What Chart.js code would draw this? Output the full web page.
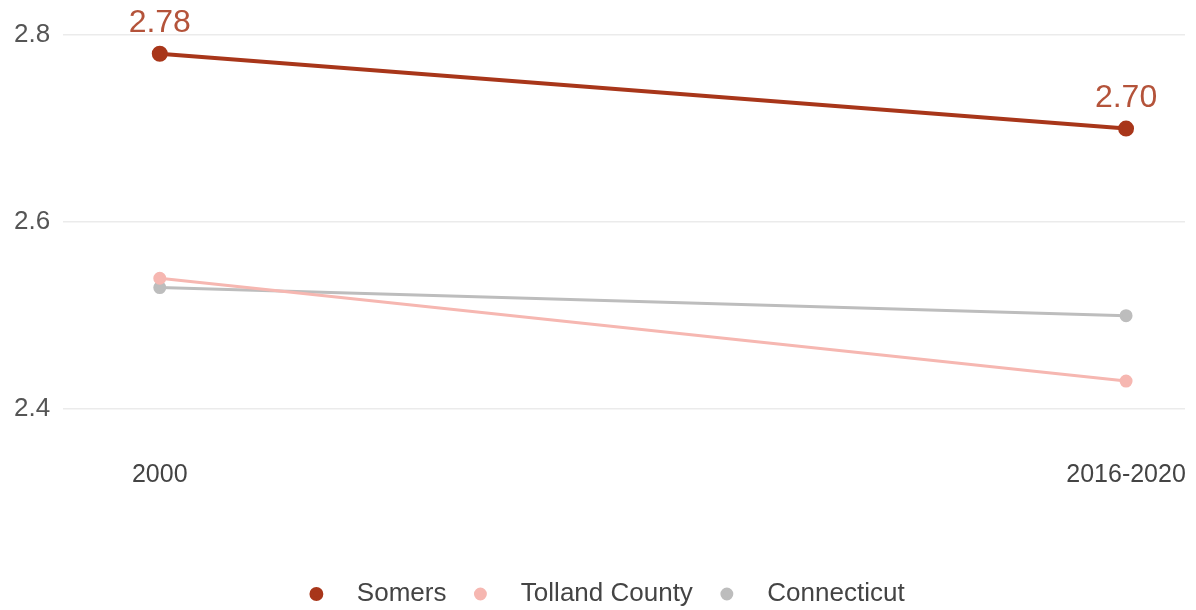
<!DOCTYPE html>
<html>
<head>
<meta charset="utf-8">
<script src="https://cdn.jsdelivr.net/npm/chart.js@4"></script>
<style>
  html, body { margin: 0; padding: 0; background: #fff; }
  #wrap { width: 1196px; height: 610px; }
</style>
</head>
<body>
<div id="wrap"><canvas id="linechart" width="1196" height="610"></canvas></div>
<script>
// data
const periods = ['2000', '2016-2020'];
const somers = [2.78, 2.70];
const tolland = [2.54, 2.43];
const connecticut = [2.53, 2.50];
const yTicks = [2.4, 2.6, 2.8];

const font = '"Liberation Sans", Arial, sans-serif';

function toPoints(values) {
  return values.map((v, i) => ({ x: i, y: v }));
}

// value labels above the Somers points, plus a few position tweaks
const valueLabels = {
  id: 'valueLabels',
  beforeInit(chart) {
    // pull the legend a bit lower and to the right
    const legend = chart.legend;
    const fit = legend.fit;
    legend.fit = function () {
      fit.call(this);
      this.height -= 5;
    };
    const draw = legend.draw;
    legend.draw = function (area) {
      this.ctx.save();
      this.ctx.translate(11, 2);
      draw.call(this, area);
      this.ctx.restore();
    };
  },
  afterLayout(chart) {
    // x tick labels sit further below the panel than tick padding allows
    const xs = chart.scales.x;
    if (xs && !xs._shifted) {
      const drawLabels = xs.drawLabels;
      xs.drawLabels = function (area) {
        this.ctx.save();
        this.ctx.translate(0, 20);
        drawLabels.call(this, area);
        this.ctx.restore();
      };
      xs._shifted = true;
    }
  },
  afterDatasetsDraw(chart) {
    const ctx = chart.ctx;
    const meta = chart.getDatasetMeta(0);
    ctx.save();
    ctx.font = '32px ' + font;
    ctx.fillStyle = '#b4533a';
    ctx.textAlign = 'center';
    ctx.textBaseline = 'alphabetic';
    meta.data.forEach((pt, i) => {
      ctx.fillText(somers[i].toFixed(2), pt.x, pt.y - 22);
    });
    ctx.restore();
  }
};

var chart = new Chart(document.getElementById('linechart'), {
  type: 'line',
  data: {
    datasets: [
      {
        label: 'Somers',
        data: toPoints(somers),
        borderColor: '#a8361a',
        backgroundColor: '#a8361a',
        borderWidth: 4,
        pointRadius: 6,
        pointHoverRadius: 6,
      },
      {
        label: 'Tolland County',
        data: toPoints(tolland),
        borderColor: '#f6b7b1',
        backgroundColor: '#f6b7b1',
        borderWidth: 3,
        pointRadius: 5,
        pointHoverRadius: 5,
      },
      {
        label: 'Connecticut',
        data: toPoints(connecticut),
        borderColor: '#bdbdbd',
        backgroundColor: '#bdbdbd',
        borderWidth: 3,
        pointRadius: 5,
        pointHoverRadius: 5,
      },
    ],
  },
  options: {
    responsive: false,
    animation: false,
    layout: { padding: { top: 0, right: 11, left: 1, bottom: 0 } },
    scales: {
      x: {
        type: 'linear',
        min: -0.1,
        max: 1.061,
        afterBuildTicks: (scale) => { scale.ticks = periods.map((p, i) => ({ value: i })); },
        afterFit: (scale) => { scale.height += 82; },
        grid: { display: false },
        border: { display: false },
        ticks: {
          callback: (v) => periods[v],
          color: '#444',
          font: { family: font, size: 25 },
          padding: 6,
          maxRotation: 0,
        },
      },
      y: {
        min: 2.382,
        max: 2.8069,
        afterBuildTicks: (scale) => { scale.ticks = yTicks.map(v => ({ value: v })); },
        grid: { color: '#ebebeb', lineWidth: 1.5, drawTicks: false },
        border: { display: false },
        ticks: {
          callback: (v) => v.toFixed(1),
          color: '#555',
          font: { family: font, size: 26 },
          padding: 13,
        },
      },
    },
    plugins: {
      legend: {
        position: 'bottom',
        labels: {
          usePointStyle: true,
          pointStyle: 'circle',
          boxWidth: 26,
          boxHeight: 7,
          padding: 21,
          color: '#444',
          font: { family: font, size: 26 },
          generateLabels: (chart) => Chart.defaults.plugins.legend.labels.generateLabels(chart)
            .map(item => Object.assign(item, { text: '  ' + item.text })),
        },
      },
      tooltip: { enabled: false },
    },
  },
  plugins: [valueLabels],
});
</script>
</body>
</html>
